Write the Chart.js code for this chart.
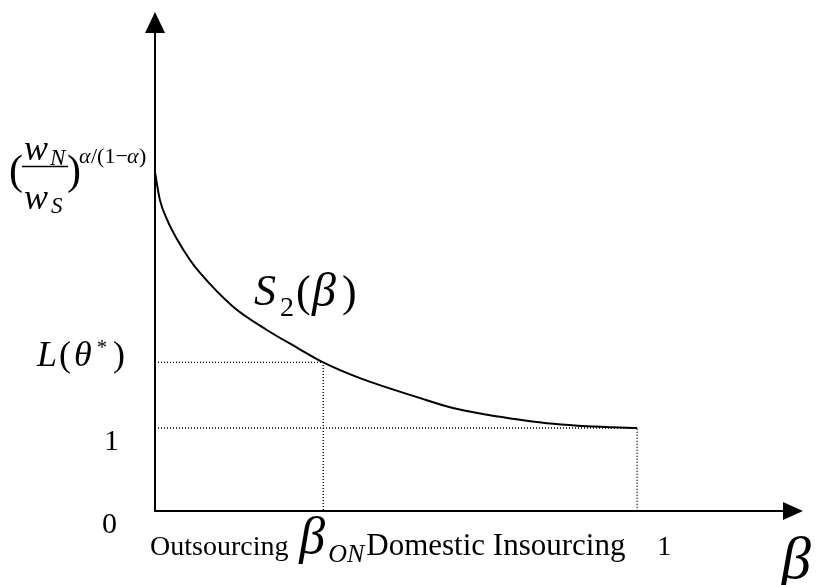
<!DOCTYPE html>
<html>
<head>
<meta charset="utf-8">
<script src="https://cdn.jsdelivr.net/npm/chart.js@4.4.0/dist/chart.umd.min.js"></script>
<style>
  html, body { margin: 0; padding: 0; background: #fff; }
  canvas { display: block; }
</style>
</head>
<body>
<canvas id="schedule" width="819" height="585"></canvas>
<script>
const betaValues = [0, 0.010, 0.025, 0.046, 0.073, 0.093, 0.162, 0.232, 0.297, 0.349, 0.425, 0.550, 0.618, 0.689, 0.757, 0.826, 0.896, 1.0];
const s2Values   = [4.08, 3.75, 3.51, 3.27, 3.02, 2.87, 2.46, 2.18, 1.96, 1.79, 1.60, 1.36, 1.24, 1.16, 1.10, 1.05, 1.02, 1.0];

const betaON = 0.349;     // where the curve meets L(theta*)
const lTheta = 1.79;      // L(theta*)
const floorLevel = 1;     // the "1" level
const betaEnd = 1;        // the "1" on the beta axis
const topLevel = 4.10;    // (wN/wS)^(a/(1-a))

const xRange = [0, 1.344];
const yRange = [0, 6.01];

const SERIF = '"Liberation Serif", "Times New Roman", serif';

function pts(xs, ys) {
    return xs.map((x, i) => ({ x: x, y: ys[i] }));
}

// writes one piece of text, left aligned on a baseline
function put(ctx, text, x, y, size, italic) {
    ctx.font = (italic ? 'italic ' : '') + size + 'px ' + SERIF;
    ctx.fillText(text, x, y);
}

const axesAndLabels = {
    id: 'axesAndLabels',
    afterDatasetsDraw(chart) {
        const ctx = chart.ctx;
        const a = chart.chartArea;
        const xs = chart.scales.x;
        const ys = chart.scales.y;
        ctx.save();
        ctx.fillStyle = '#000';
        ctx.strokeStyle = '#000';

        // axes with arrow heads
        ctx.lineWidth = 2;
        ctx.beginPath();
        ctx.moveTo(a.left, a.top + 18);
        ctx.lineTo(a.left, a.bottom);
        ctx.lineTo(a.right - 18, a.bottom);
        ctx.stroke();
        ctx.beginPath();
        ctx.moveTo(a.left, a.top);
        ctx.lineTo(a.left - 10, a.top + 21);
        ctx.lineTo(a.left + 10, a.top + 21);
        ctx.closePath();
        ctx.fill();
        ctx.beginPath();
        ctx.moveTo(a.right, a.bottom);
        ctx.lineTo(a.right - 20, a.bottom - 9);
        ctx.lineTo(a.right - 20, a.bottom + 9);
        ctx.closePath();
        ctx.fill();

        ctx.textBaseline = 'alphabetic';
        ctx.textAlign = 'left';

        // (wN / wS)^(alpha/(1-alpha))
        const yt = ys.getPixelForValue(topLevel);
        put(ctx, '(', 9, yt + 13, 42, false);
        put(ctx, 'w', 24, yt - 11, 36, true);
        put(ctx, 'N', 50, yt - 6, 23, true);
        ctx.lineWidth = 1.5;
        ctx.beginPath();
        ctx.moveTo(22, yt - 4);
        ctx.lineTo(68, yt - 4);
        ctx.stroke();
        put(ctx, 'w', 24, yt + 38, 36, true);
        put(ctx, 'S', 51, yt + 42, 23, true);
        put(ctx, ')', 67, yt + 13, 42, false);
        put(ctx, '\u03b1', 79, yt - 8, 22, true);
        put(ctx, '/(1\u2212', 91, yt - 8, 22, false);
        put(ctx, '\u03b1', 127, yt - 8, 22, true);
        put(ctx, ')', 139, yt - 8, 22, false);

        // L(theta*)
        const yl = ys.getPixelForValue(lTheta);
        put(ctx, 'L', 37, yl + 4, 36, true);
        put(ctx, '(', 59, yl + 4, 36, false);
        put(ctx, '\u03b8', 74, yl + 4, 36, true);
        put(ctx, '*', 97, yl - 8, 20, false);
        put(ctx, ')', 113, yl + 4, 36, false);

        // 1 and 0 on the vertical axis
        put(ctx, '1', 104, ys.getPixelForValue(floorLevel) + 22, 30, false);
        put(ctx, '0', 102, ys.getPixelForValue(0) + 22, 30, false);

        // S2(beta) next to the curve
        put(ctx, 'S', 254, 305, 44, true);
        put(ctx, '2', 280, 316, 28, false);
        put(ctx, '(', 296, 306, 44, false);
        put(ctx, '\u03b2', 312, 306, 48, true);
        put(ctx, ')', 342, 306, 44, false);

        // labels along the beta axis
        const yb = a.bottom + 44;
        put(ctx, 'Outsourcing', xs.getPixelForValue(0) - 5, yb, 28, false);
        const xon = xs.getPixelForValue(betaON);
        put(ctx, '\u03b2', xon - 24, yb - 2, 52, true);
        put(ctx, 'ON', xon + 5, yb + 7, 26, true);
        put(ctx, 'Domestic Insourcing', xon + 43, yb, 31, false);
        put(ctx, '1', xs.getPixelForValue(betaEnd) + 20, yb, 28, false);
        put(ctx, '\u03b2', a.right - 22, a.bottom + 67, 60, true);

        ctx.restore();
    }
};

const dotted = {
    borderColor: '#000',
    borderWidth: 1.4,
    borderDash: [1, 2],
    pointRadius: 0,
    fill: false,
    tension: 0
};

new Chart(document.getElementById('schedule'), {
    type: 'line',
    data: {
        datasets: [{
            label: 'S2',
            data: pts(betaValues, s2Values),
            borderColor: '#000',
            borderWidth: 2,
            pointRadius: 0,
            fill: false,
            cubicInterpolationMode: 'monotone'
        },
        Object.assign({ label: 'ltheta', data: pts([0, betaON, betaON], [lTheta, lTheta, 0]) }, dotted),
        Object.assign({ label: 'floor', data: pts([0, betaEnd, betaEnd], [floorLevel, floorLevel, 0]) }, dotted)
        ]
    },
    options: {
        responsive: false,
        animation: false,
        devicePixelRatio: 1,
        layout: { padding: { left: 155, right: 16, top: 12, bottom: 74 } },
        plugins: { legend: { display: false }, tooltip: { enabled: false } },
        scales: {
            x: { type: 'linear', min: xRange[0], max: xRange[1], display: false },
            y: { type: 'linear', min: yRange[0], max: yRange[1], display: false }
        }
    },
    plugins: [axesAndLabels]
});
</script>
</body>
</html>
